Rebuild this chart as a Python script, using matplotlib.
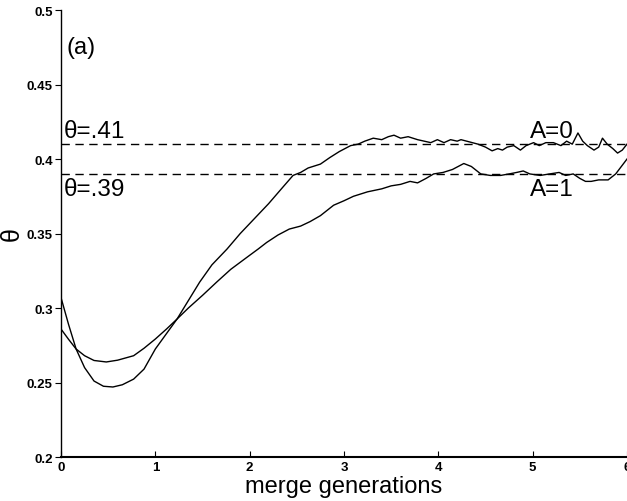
import matplotlib
matplotlib.use("Agg")
import matplotlib.pyplot as plt

plt.rcParams['font.family'] = ['Liberation Sans', 'DejaVu Sans']

# A=0 curve (steeper one)
gen_a0 = [0.0, 0.08, 0.16, 0.25, 0.35, 0.45, 0.55, 0.65, 0.77, 0.88, 1.0, 1.12, 1.23,
          1.35, 1.47, 1.6, 1.76, 1.9, 2.05, 2.2, 2.35, 2.46, 2.54, 2.62, 2.75, 2.85,
          2.95, 3.07, 3.15, 3.22, 3.31, 3.4, 3.47, 3.53, 3.6, 3.68, 3.78, 3.85, 3.92,
          3.99, 4.06, 4.13, 4.2, 4.24, 4.3, 4.36, 4.42, 4.5, 4.57, 4.63, 4.68, 4.73,
          4.8, 4.87, 4.93, 5.01, 5.07, 5.14, 5.22, 5.3, 5.36, 5.42, 5.48, 5.53, 5.58,
          5.65, 5.7, 5.74, 5.79, 5.85, 5.9, 5.95, 6.0]
theta_a0 = [0.307, 0.289, 0.2725, 0.260, 0.251, 0.2475, 0.247, 0.2485, 0.2523, 0.259,
            0.2725, 0.283, 0.2926, 0.305, 0.3174, 0.329, 0.3396, 0.350, 0.360, 0.370,
            0.381, 0.389, 0.391, 0.394, 0.3966, 0.401, 0.405, 0.409, 0.410, 0.412,
            0.414, 0.413, 0.415, 0.416, 0.414, 0.415, 0.413, 0.412, 0.411, 0.413,
            0.411, 0.413, 0.412, 0.413, 0.412, 0.411, 0.410, 0.408, 0.4055, 0.407,
            0.406, 0.408, 0.409, 0.406, 0.409, 0.411, 0.409, 0.411, 0.411, 0.409,
            0.412, 0.410, 0.4175, 0.412, 0.409, 0.406, 0.408, 0.414, 0.410, 0.407,
            0.404, 0.406, 0.410]

# A=1 curve
gen_a1 = [0.0, 0.08, 0.16, 0.25, 0.35, 0.48, 0.6, 0.77, 0.88, 1.0, 1.12, 1.23, 1.35,
          1.5, 1.65, 1.8, 1.97, 2.09, 2.18, 2.3, 2.42, 2.54, 2.64, 2.75, 2.89, 3.0,
          3.1, 3.25, 3.4, 3.5, 3.6, 3.7, 3.78, 3.87, 3.95, 4.05, 4.15, 4.27, 4.35,
          4.45, 4.55, 4.66, 4.75, 4.83, 4.9, 4.97, 5.08, 5.18, 5.28, 5.35, 5.43, 5.5,
          5.56, 5.62, 5.7, 5.8, 5.88, 5.94, 6.0]
theta_a1 = [0.2859, 0.279, 0.2725, 0.268, 0.2648, 0.2638, 0.265, 0.268, 0.273, 0.2792,
            0.286, 0.2926, 0.300, 0.3085, 0.3174, 0.326, 0.334, 0.3396, 0.344, 0.349,
            0.353, 0.355, 0.358, 0.362, 0.369, 0.372, 0.375, 0.378, 0.380, 0.382,
            0.383, 0.385, 0.384, 0.387, 0.390, 0.391, 0.393, 0.397, 0.395, 0.390,
            0.389, 0.389, 0.390, 0.391, 0.392, 0.390, 0.389, 0.390, 0.391, 0.389,
            0.390, 0.387, 0.385, 0.385, 0.386, 0.386, 0.390, 0.395, 0.400]

ref_levels = [0.41, 0.39]
y_ticks = [0.2, 0.25, 0.3, 0.35, 0.4, 0.45, 0.5]
y_tick_labels = ['0.2', '0.25', '0.3', '0.35', '0.4', '0.45', '0.5']
x_ticks = [0, 1, 2, 3, 4, 5, 6]

fig = plt.figure(figsize=(6.27, 5.02), dpi=100)
ax = fig.add_axes([0.0973, 0.0876, 0.9027, 0.8904])

ax.plot(gen_a0, theta_a0, color='black', lw=1.0)
ax.plot(gen_a1, theta_a1, color='black', lw=1.0)
for lvl in ref_levels:
    ax.axhline(lvl, color='black', lw=1.0, ls=(0, (6, 4)))

ax.set_xlim(0, 6)
ax.set_ylim(0.2, 0.5)
ax.set_xticks(x_ticks)
ax.set_yticks(y_ticks)
ax.set_yticklabels(y_tick_labels)
ax.tick_params(axis='x', direction='in', length=4, labelsize=9.5, pad=3)
ax.tick_params(axis='y', direction='out', length=4, labelsize=9.5, pad=2)
for lab in ax.get_xticklabels() + ax.get_yticklabels():
    lab.set_fontweight('bold')

ax.spines['top'].set_visible(False)
ax.spines['right'].set_visible(False)
ax.spines['left'].set_linewidth(1.0)
ax.spines['bottom'].set_linewidth(1.5)

ax.set_xlabel('merge generations', fontsize=17, labelpad=1)
ax.set_ylabel('θ', fontsize=18, labelpad=2)

ax.text(0.06, 0.475, '(a)', fontsize=17, va='center', ha='left')
ax.text(0.03, 0.4115, 'θ=.41', fontsize=17.5, va='bottom', ha='left')
ax.text(0.03, 0.3875, 'θ=.39', fontsize=17.5, va='top', ha='left')
ax.text(4.97, 0.4115, 'A=0', fontsize=17.5, va='bottom', ha='left')
ax.text(4.97, 0.3875, 'A=1', fontsize=17.5, va='top', ha='left')

fig.savefig('out.png', dpi=100)
